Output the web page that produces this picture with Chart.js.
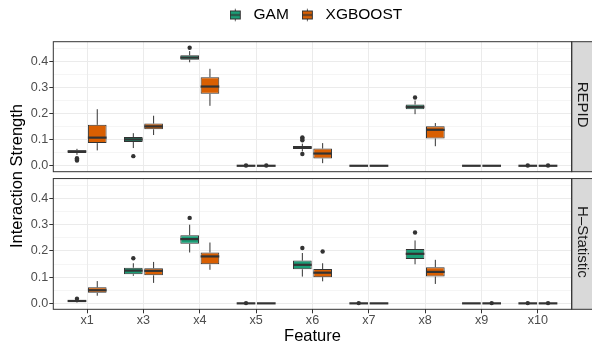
<!DOCTYPE html>
<html>
<head>
<meta charset="utf-8">
<script src="https://cdn.jsdelivr.net/npm/chart.js@4.4.1/dist/chart.umd.min.js"></script>
<style>
  html, body { margin: 0; padding: 0; background: #fff; }
  #wrap { position: relative; width: 592px; height: 345px; overflow: hidden; font-family: "Liberation Sans", Arial, sans-serif; }
  #topCanvas { position: absolute; left: 0; top: 0; }
  #botCanvas { position: absolute; left: 0; top: 170px; }
  #ytitle {
    position: absolute; left: -84px; top: 165.5px; width: 200px; height: 20px;
    line-height: 20px; text-align: center; font-size: 16.5px; color: #000;
    transform: rotate(-90deg); white-space: nowrap;
  }
</style>
</head>
<body>
<div id="wrap">
  <canvas id="topCanvas" width="592" height="182"></canvas>
  <canvas id="botCanvas" width="592" height="175"></canvas>
  <div id="ytitle">Interaction Strength</div>
</div>
<script>
const features = ['x1', 'x3', 'x4', 'x5', 'x6', 'x7', 'x8', 'x9', 'x10'];

// [lower whisker, q1, median, q3, upper whisker] per feature
const repidGam = [
  [0.042, 0.049, 0.055, 0.060, 0.065], [0.068, 0.091, 0.101, 0.110, 0.125],
  [0.397, 0.407, 0.415, 0.424, 0.440], [0, 0, 0, 0, 0],
  [0.055, 0.064, 0.070, 0.076, 0.085], [0, 0, 0, 0, 0],
  [0.198, 0.217, 0.226, 0.235, 0.250], [0, 0, 0, 0, 0], [0, 0, 0, 0, 0]
];
const repidGamOut = [[0.020, 0.024, 0.029], [0.037], [0.453], [0.001], [0.109, 0.104, 0.098, 0.045], [], [0.262], [], [0.001]];

const repidXgb = [
  [0.059, 0.087, 0.108, 0.157, 0.217], [0.118, 0.140, 0.151, 0.162, 0.192],
  [0.230, 0.276, 0.304, 0.340, 0.372], [0, 0, 0, 0, 0],
  [0.010, 0.028, 0.047, 0.066, 0.087], [0, 0, 0, 0, 0],
  [0.075, 0.105, 0.138, 0.152, 0.164], [0, 0, 0, 0, 0], [0, 0, 0, 0, 0]
];
const repidXgbOut = [[], [], [], [0.001], [], [], [], [], [0.001]];

const hstatGam = [
  [0.003, 0.006, 0.009, 0.012, 0.015], [0.105, 0.111, 0.125, 0.136, 0.153],
  [0.194, 0.227, 0.245, 0.260, 0.300], [0, 0, 0, 0, 0],
  [0.102, 0.130, 0.147, 0.163, 0.192], [0, 0, 0, 0, 0],
  [0.149, 0.169, 0.189, 0.207, 0.240], [0, 0, 0, 0, 0], [0, 0, 0, 0, 0]
];
const hstatGamOut = [[0.018], [0.172], [0.326], [0.001], [0.211], [0.001], [0.270], [], [0.001]];

const hstatXgb = [
  [0.029, 0.040, 0.050, 0.061, 0.085], [0.078, 0.107, 0.124, 0.134, 0.158],
  [0.128, 0.149, 0.179, 0.194, 0.232], [0, 0, 0, 0, 0],
  [0.084, 0.100, 0.117, 0.131, 0.153], [0, 0, 0, 0, 0],
  [0.074, 0.102, 0.120, 0.138, 0.166], [0, 0, 0, 0, 0], [0, 0, 0, 0, 0]
];
const hstatXgbOut = [[], [], [], [], [0.198], [], [], [0.001], [0.001]];

const FONT = '"Liberation Sans", Arial, sans-serif';
const INK = '#333333';
const GAM_COL = '#1B9E77';
const XGB_COL = '#D95F02';
const CAT_PCT = 0.72;
const BAR_PCT = 0.92;

// little boxplot glyph for the legend keys
function boxIcon(color) {
  const c = document.createElement('canvas');
  c.width = 16; c.height = 15;
  const g = c.getContext('2d');
  g.strokeStyle = INK; g.lineWidth = 1;
  g.beginPath(); g.moveTo(5.5, 1.5); g.lineTo(5.5, 13.5); g.stroke();
  g.fillStyle = color; g.fillRect(0.5, 3.5, 10, 8);
  g.strokeRect(0.5, 3.5, 10, 8);
  g.lineWidth = 1.5;
  g.beginPath(); g.moveTo(0.5, 7.5); g.lineTo(10.5, 7.5); g.stroke();
  return c;
}

const isMajor = (v) => Math.abs(v * 10 - Math.round(v * 10)) < 1e-6;

const boxPlot = {
  id: 'boxPlot',
  afterLayout(chart, args, opts) {
    // ggplot centres the legend a little further right than chart.js does
    if (chart.legend && opts.legendShift) {
      chart.legend.left += opts.legendShift;
      chart.legend.right += opts.legendShift;
    }
  },
  beforeDatasetsDraw(chart) {
    const y = chart.scales.y, ctx = chart.ctx;
    ctx.save();
    ctx.strokeStyle = INK; ctx.lineWidth = 1;
    chart.data.datasets.forEach((ds, di) => {
      if (!ds.stats) return;
      chart.getDatasetMeta(di).data.forEach((bar, i) => {
        const s = ds.stats[i];
        ctx.beginPath();
        ctx.moveTo(bar.x, y.getPixelForValue(s[0])); ctx.lineTo(bar.x, y.getPixelForValue(s[1]));
        ctx.moveTo(bar.x, y.getPixelForValue(s[3])); ctx.lineTo(bar.x, y.getPixelForValue(s[4]));
        ctx.stroke();
      });
    });
    ctx.restore();
  },
  afterDatasetDraw(chart, args) {
    const ds = chart.data.datasets[args.index];
    if (!ds.stats) return;
    const y = chart.scales.y, ctx = chart.ctx;
    ctx.save();
    ctx.strokeStyle = INK; ctx.lineWidth = 2.2;
    args.meta.data.forEach((bar, i) => {
      const py = y.getPixelForValue(ds.stats[i][2]);
      ctx.beginPath();
      ctx.moveTo(bar.x - bar.width / 2, py); ctx.lineTo(bar.x + bar.width / 2, py);
      ctx.stroke();
    });
    ctx.restore();
  },
  afterDraw(chart, args, opts) {
    const a = chart.chartArea, ctx = chart.ctx;
    ctx.save();
    ctx.fillStyle = '#D9D9D9';
    ctx.fillRect(a.right, a.top, 22, a.bottom - a.top);
    ctx.strokeStyle = INK; ctx.lineWidth = 1;
    ctx.strokeRect(a.right, a.top, 22, a.bottom - a.top);
    ctx.strokeRect(a.left, a.top, a.right - a.left, a.bottom - a.top);
    ctx.translate(a.right + 10.5, (a.top + a.bottom) / 2 - 2);
    ctx.rotate(Math.PI / 2);
    ctx.fillStyle = '#1A1A1A';
    ctx.font = '15px ' + FONT;
    ctx.textAlign = 'center'; ctx.textBaseline = 'middle';
    ctx.fillText(opts.strip, 0, 0);
    ctx.restore();
  }
};

function makeChart(canvas, strip, gam, gamOut, xgb, xgbOut, isTop) {
  const shift = CAT_PCT / 4;
  const outPoints = (outs, dx) => outs.flatMap((vals, i) => vals.map(v => ({x: i + dx, y: v})));
  const bars = (stats) => stats.map((s, i) => ({x: i, y: [s[1], s[3]]}));

  return new Chart(canvas, {
    type: 'bar',
    data: {
      datasets: [
        {
          label: 'GAM', data: bars(gam), stats: gam, icon: boxIcon(GAM_COL),
          backgroundColor: GAM_COL, borderColor: INK, borderWidth: 1, borderSkipped: false,
          categoryPercentage: CAT_PCT, barPercentage: BAR_PCT
        },
        {
          label: 'XGBOOST', data: bars(xgb), stats: xgb, icon: boxIcon(XGB_COL),
          backgroundColor: XGB_COL, borderColor: INK, borderWidth: 1, borderSkipped: false,
          categoryPercentage: CAT_PCT, barPercentage: BAR_PCT
        },
        { type: 'scatter', data: outPoints(gamOut, -shift), pointRadius: 2.2, backgroundColor: INK, borderWidth: 0 },
        { type: 'scatter', data: outPoints(xgbOut, shift), pointRadius: 2.2, backgroundColor: INK, borderWidth: 0 }
      ]
    },
    options: {
      responsive: false,
      animation: false,
      events: [],
      layout: { padding: isTop ? { top: -5.75, right: 20.3, bottom: 10.3, left: 0 }
                               : { top: 8.3, right: 20.3, bottom: 0, left: 0 } },
      scales: {
        x: {
          type: 'linear',
          position: isTop ? 'top' : 'bottom',
          min: -0.6, max: 8.6,
          offset: false,
          afterFit: (s) => { s.height = isTop ? 8.95 : 35.7; },
          border: { display: false },
          grid: { offset: false, color: '#EBEBEB', lineWidth: 1, drawTicks: !isTop, tickLength: 4, tickColor: INK },
          ticks: {
            display: !isTop, stepSize: 1, includeBounds: false, autoSkip: false, maxRotation: 0,
            padding: 0, color: '#4D4D4D', font: { size: 12.6, family: FONT },
            callback: (v) => features[v]
          },
          title: {
            display: !isTop, text: 'Feature', color: '#000',
            font: { size: 16.5, family: FONT, lineHeight: 1.0 }, padding: { top: 0, bottom: 0 }
          }
        },
        y: {
          min: -0.0227, max: 0.476,
          afterFit: (s) => { s.width = 53.3; },
          border: { display: false },
          grid: {
            color: '#EBEBEB',
            lineWidth: (c) => isMajor(c.tick.value) ? 1 : 0.5,
            tickColor: (c) => isMajor(c.tick.value) ? INK : 'rgba(0,0,0,0)',
            tickLength: 4
          },
          ticks: {
            stepSize: 0.05, includeBounds: false, autoSkip: false, padding: 1,
            color: '#4D4D4D', font: { size: 12.6, family: FONT },
            callback: (v) => isMajor(v) ? v.toFixed(1) : ''
          }
        }
      },
      plugins: {
        boxPlot: { strip: strip, legendShift: 3.5 },
        tooltip: { enabled: false },
        legend: {
          display: isTop,
          position: 'top',
          fullSize: false,
          labels: {
            usePointStyle: true, pointStyleWidth: 16, padding: 13,
            color: '#000', font: { size: 15.5, family: FONT },
            generateLabels: (chart) => chart.data.datasets
              .map((ds, i) => ({ ds, i }))
              .filter(o => o.ds.icon)
              .map(o => ({
                text: o.ds.label, pointStyle: o.ds.icon, datasetIndex: o.i, hidden: false,
                fillStyle: o.ds.backgroundColor, strokeStyle: INK, lineWidth: 0, fontColor: '#000'
              }))
          }
        }
      }
    },
    plugins: [boxPlot]
  });
}

makeChart(document.getElementById('topCanvas'), 'REPID', repidGam, repidGamOut, repidXgb, repidXgbOut, true);
makeChart(document.getElementById('botCanvas'), 'H\u2013Statistic', hstatGam, hstatGamOut, hstatXgb, hstatXgbOut, false);
</script>
</body>
</html>
